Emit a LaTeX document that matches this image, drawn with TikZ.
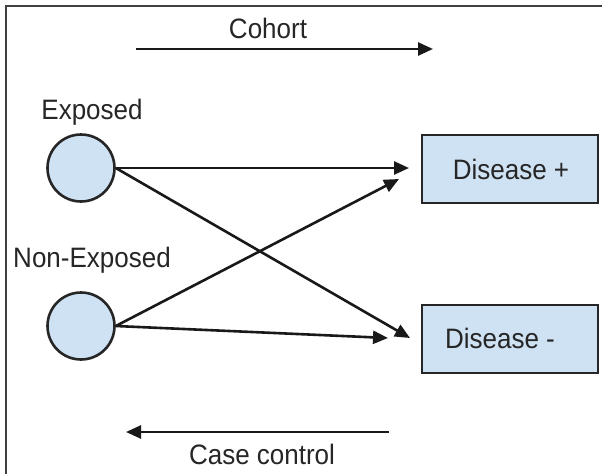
\documentclass[tikz,border=0pt]{standalone}
\usepackage{fontspec}
\setmainfont{Liberation Sans}
\usetikzlibrary{arrows.meta}
\definecolor{fillblue}{HTML}{CFE2F3}
\definecolor{txt}{HTML}{262626}
\begin{document}
\begin{tikzpicture}[x=1pt,y=-1pt,
  lbl/.style={text=txt,font=\fontsize{26}{30}\selectfont,inner sep=0pt,yscale=1.08},
  dbox/.style={draw=black!85,fill=fillblue,line width=2.6pt,minimum width=176pt,minimum height=68pt,inner sep=0pt},
  circ/.style={draw=black!85,fill=fillblue,line width=2.6pt,circle,minimum size=67pt,inner sep=0pt},
  conn/.style={line width=2.6pt,draw=black!90,-{Triangle[length=15pt,width=13pt]}},
  frameline/.style={draw=black!75,line width=1.8pt}]
\useasboundingbox (0,0) rectangle (602,474);
\draw[frameline] (6,474) -- (6,6) -- (602,6);
\node[lbl] (cohort) at (268,28) {Cohort};
\coordinate (c1) at (136,49);
\coordinate (c2) at (433,49);
\draw[conn] (c1) -- (c2);
\node[lbl] (explbl) at (92,112) {Exposed};
\node[lbl] (nexplbl) at (92,260) {Non-Exposed};
\node[circ] (exp) at (81,168) {};
\node[circ] (nexp) at (81,326) {};
\node[dbox] (dp) at (510,169) {};
\node[lbl] (dptxt) at (511,169) {Disease +};
\node[dbox] (dm) at (510,339) {};
\node[lbl] (dmtxt) at (500,338) {Disease -};
\coordinate (t1) at (409,168);
\coordinate (t2) at (410,338);
\coordinate (t3) at (399,179);
\coordinate (t4) at (388,338);
\draw[conn] (exp.east) -- (t1);
\draw[conn] (exp.east) -- (t2);
\draw[conn] (nexp.east) -- (t3);
\draw[conn] (nexp.east) -- (t4);
\coordinate (k1) at (389,432);
\coordinate (k2) at (126,432);
\draw[conn] (k1) -- (k2);
\node[lbl] (cc) at (262,454) {Case control};
\end{tikzpicture}
\end{document}
